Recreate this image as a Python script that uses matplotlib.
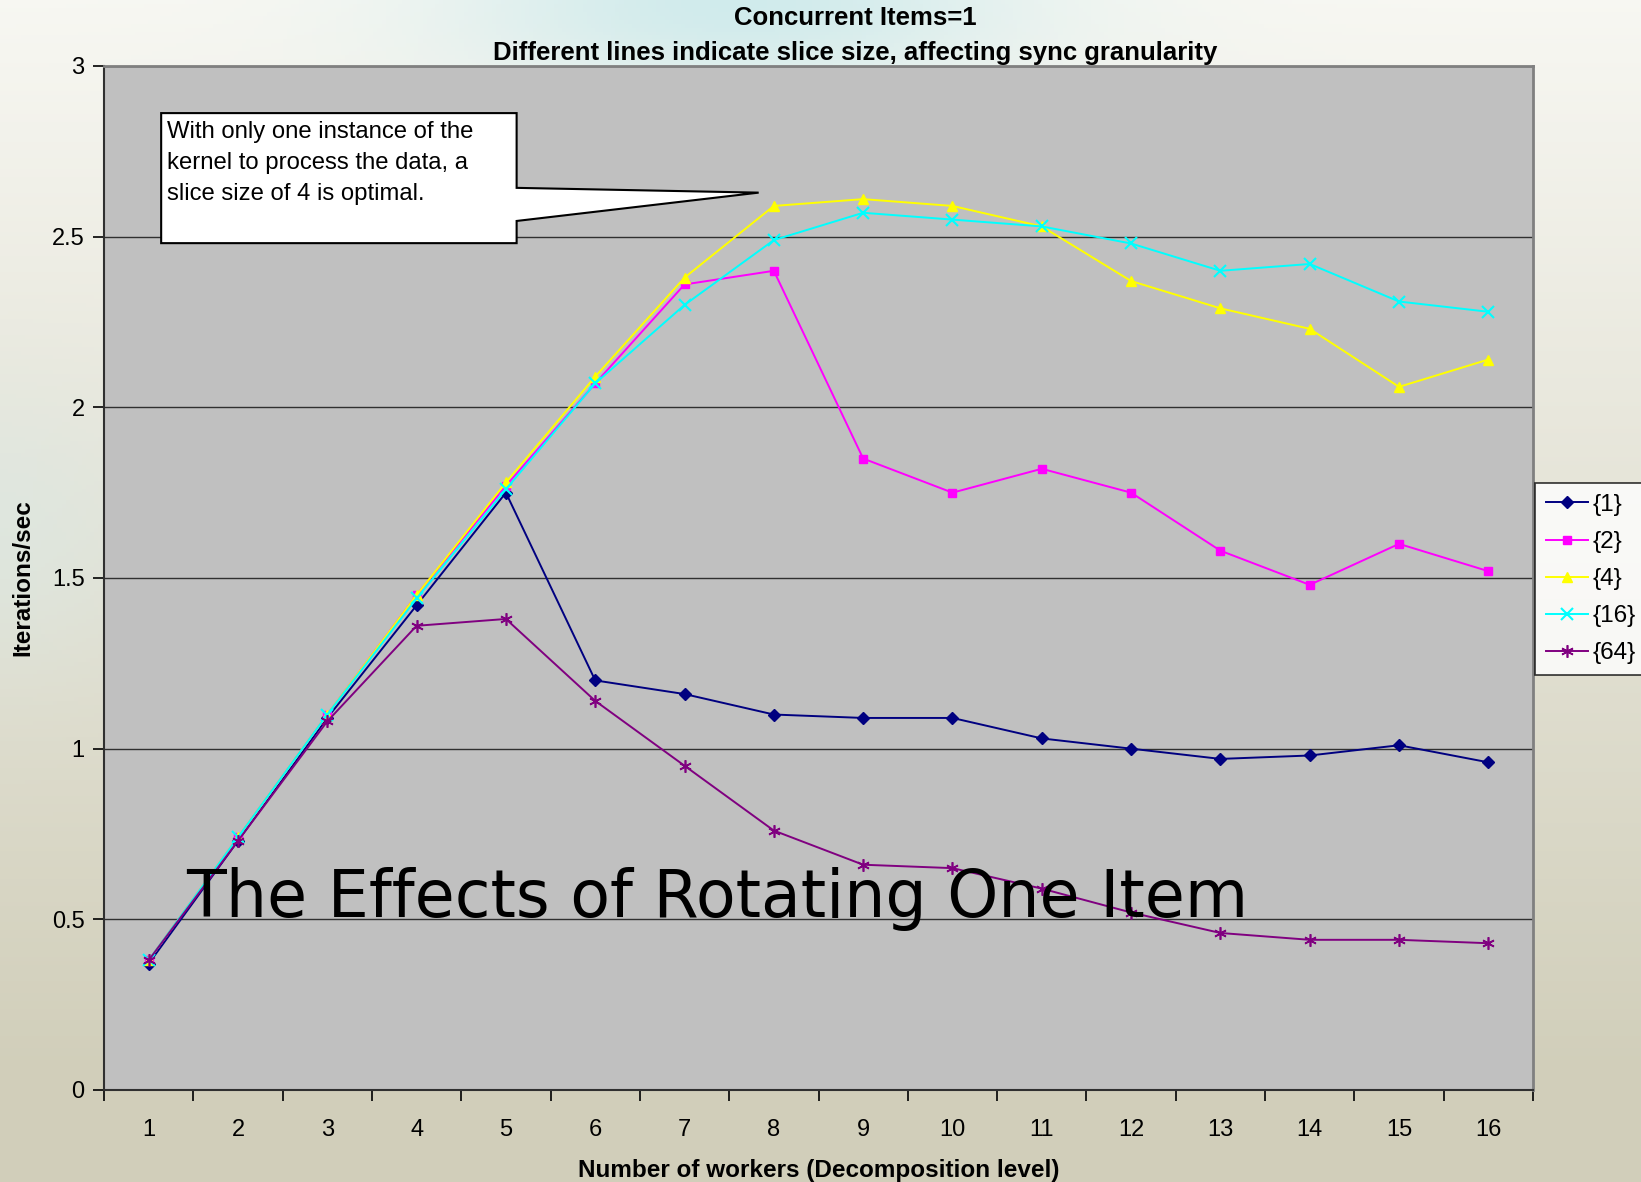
import numpy as np
import matplotlib
matplotlib.use("Agg")
import matplotlib.pyplot as plt
from matplotlib.patches import Polygon

# Number of workers (decomposition level)
workers = list(range(1, 17))

# Iterations/sec for each slice size
slice_1 = [0.37, 0.73, 1.09, 1.42, 1.75, 1.20, 1.16, 1.10, 1.09, 1.09, 1.03, 1.00, 0.97, 0.98, 1.01, 0.96]
slice_2 = [0.38, 0.74, 1.10, 1.45, 1.77, 2.07, 2.36, 2.40, 1.85, 1.75, 1.82, 1.75, 1.58, 1.48, 1.60, 1.52]
slice_4 = [0.38, 0.74, 1.10, 1.45, 1.78, 2.09, 2.38, 2.59, 2.61, 2.59, 2.53, 2.37, 2.29, 2.23, 2.06, 2.14]
slice_16 = [0.38, 0.74, 1.10, 1.44, 1.76, 2.07, 2.30, 2.49, 2.57, 2.55, 2.53, 2.48, 2.40, 2.42, 2.31, 2.28]
slice_64 = [0.38, 0.73, 1.08, 1.36, 1.38, 1.14, 0.95, 0.76, 0.66, 0.65, 0.59, 0.52, 0.46, 0.44, 0.44, 0.43]

series_labels = ["{1}", "{2}", "{4}", "{16}", "{64}"]
y_ticks = [0, 0.5, 1, 1.5, 2, 2.5, 3]
y_tick_labels = ["0", "0.5", "1", "1.5", "2", "2.5", "3"]

plt.rcParams["font.family"] = ["Liberation Sans", "DejaVu Sans"]

W, H = 1641, 1182
fig = plt.figure(figsize=(W / 100, H / 100), dpi=100)

# Soft slide background
bg_ax = fig.add_axes([0, 0, 1, 1], zorder=-10)
bg_ax.set_axis_off()
yy, xx = np.mgrid[0:1:300j, 0:1:400j]
top = np.array([0.97, 0.97, 0.95])
bottom = np.array([0.82, 0.81, 0.73])
t = np.clip(yy * 1.1, 0, 1)[..., None]
img = top * (1 - t) + bottom * t
cyan = np.array([0.78, 0.91, 0.92])
blob = np.exp(-(((xx - 0.45) / 0.18) ** 2 + (yy / 0.08) ** 2))[..., None]
img = img * (1 - 0.8 * blob) + cyan * 0.8 * blob
left_tint = np.array([0.86, 0.91, 0.89])
lb = np.exp(-(((xx - 0.0) / 0.08) ** 2 + ((yy - 0.45) / 0.12) ** 2))[..., None]
img = img * (1 - 0.6 * lb) + left_tint * 0.6 * lb
bg_ax.imshow(img, aspect="auto", extent=[0, 1, 0, 1], origin="upper")

ax = fig.add_axes([104 / W, 1 - 1090 / H, (1533 - 104) / W, (1090 - 66) / H])
ax.set_facecolor("#c0c0c0")

styles = [
    dict(color="#000080", marker="D", markersize=6),
    dict(color="#ff00ff", marker="s", markersize=6),
    dict(color="#ffff00", marker="^", markersize=7),
    dict(color="#00ffff", marker="x", markersize=8, markeredgewidth=1.5),
    dict(color="#800080", marker=(6, 2, 0), markersize=9, markeredgewidth=1.2),
]
data = [slice_1, slice_2, slice_4, slice_16, slice_64]
for vals, lab, st in zip(data, series_labels, styles):
    ax.plot(workers, vals, label=lab, linewidth=1.4, zorder=4, **st)

ax.set_xlim(0.5, 16.5)
ax.set_ylim(0, 3)
ax.set_yticks(y_ticks)
ax.set_yticklabels(y_tick_labels)
ax.set_xticks(workers)
ax.set_xticklabels([str(w) for w in workers])
ax.set_xticks(np.arange(0.5, 17.0, 1.0), minor=True)
ax.tick_params(axis="x", which="major", length=0, labelsize=17, pad=21)
ax.tick_params(axis="x", which="minor", length=8, width=1.2, direction="out")
ax.tick_params(axis="y", length=8, width=1.2, direction="out", labelsize=17, pad=6)
ax.yaxis.grid(True, color="#303030", linewidth=1.0)
ax.set_axisbelow(True)

for side in ("top", "right"):
    ax.spines[side].set_color("#808080")
    ax.spines[side].set_linewidth(2)
for side in ("left", "bottom"):
    ax.spines[side].set_color("#303030")
    ax.spines[side].set_linewidth(1.5)

ax.set_xlabel("Number of workers (Decomposition level)", fontsize=17.5, fontweight="bold", labelpad=13)
fig.text(23 / W, 1 - 578 / H, "Iterations/sec", rotation=90, ha="center", va="center",
         fontsize=17.5, fontweight="bold")
fig.text(0.521, 1 - 18 / H, "Concurrent Items=1", ha="center", va="center",
         fontsize=18.5, fontweight="bold")
fig.text(0.521, 1 - 53 / H, "Different lines indicate slice size, affecting sync granularity",
         ha="center", va="center", fontsize=18.5, fontweight="bold")

# Callout box pointing at the slice-4 peak
callout = Polygon(
    [(1.14, 2.862), (5.12, 2.862), (5.12, 2.643), (7.83, 2.629), (5.12, 2.546),
     (5.12, 2.481), (1.14, 2.481)],
    closed=True, facecolor="white", edgecolor="black", linewidth=1.5, zorder=3)
ax.add_patch(callout)
ax.text(1.2, 2.84, "With only one instance of the\nkernel to process the data, a\nslice size of 4 is optimal.",
        ha="left", va="top", fontsize=17.2, linespacing=1.53, zorder=5)

leg = fig.legend(loc="upper left", bbox_to_anchor=(1535 / W, 1 - 483 / H),
                 fontsize=17.5, frameon=True, fancybox=False, edgecolor="black",
                 handlelength=1.75, handletextpad=0.15, labelspacing=0.62,
                 borderpad=0.45, borderaxespad=0)
leg.get_frame().set_linewidth(1.2)

fig.text(186 / W, 1 - 917 / H, "The Effects of Rotating One Item", ha="left", va="baseline",
         fontsize=46.8, family="DejaVu Sans", color="black", zorder=10)

fig.savefig("out.png", dpi=100)
